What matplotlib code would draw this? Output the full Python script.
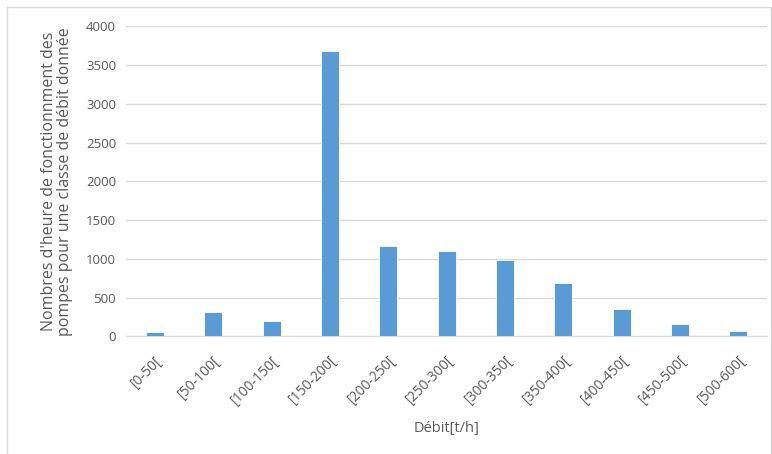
import matplotlib.pyplot as plt
from matplotlib.patches import Rectangle

classes = ['[0-50[', '[50-100[', '[100-150[', '[150-200[', '[200-250[', '[250-300[',
           '[300-350[', '[350-400[', '[400-450[', '[450-500[', '[500-600[']
heures = [55, 320, 205, 3685, 1172, 1107, 990, 690, 355, 157, 70]
yticks = [0, 500, 1000, 1500, 2000, 2500, 3000, 3500, 4000]

plt.rcParams['font.family'] = ['Open Sans', 'DejaVu Sans']
grey = '#595959'

fig = plt.figure(figsize=(7.72, 4.54), dpi=100)
fig.patches.append(Rectangle((7 / 772, -0.01), 764 / 772, 1 - 7 / 454 + 0.01,
                             transform=fig.transFigure, fill=False,
                             edgecolor='#d9d9d9', linewidth=1))

ax = fig.add_axes([0.163, 0.259, 0.831, 0.683])
x = range(len(classes))
ax.bar(x, heures, width=0.31, color='#5B9BD5', edgecolor='white', linewidth=0.6, zorder=3)

ax.set_xlim(-0.5, len(classes) - 0.5)
ax.set_ylim(0, 4000)
ax.set_yticks(yticks)
ax.set_yticklabels([str(v) for v in yticks], fontsize=9.5, color=grey)
ax.set_xticks(list(x))
ax.set_xticklabels(classes, rotation=45, ha='right', rotation_mode='anchor',
                   fontsize=10, color=grey)
ax.tick_params(length=0, pad=7)
ax.tick_params(axis='x', pad=12)
ax.grid(axis='y', color='#d9d9d9', linewidth=1, zorder=0)
for s in ['top', 'right', 'left']:
    ax.spines[s].set_visible(False)
ax.spines['bottom'].set_color('#d9d9d9')

ax.set_ylabel("Nombres d'heure de fonctionnment des\npompes pour une classe de débit donnée",
              fontsize=11.5, color=grey, labelpad=9, linespacing=1.05)
ax.set_xlabel('Débit[t/h]', fontsize=10.5, color=grey, labelpad=10)

fig.savefig('out.png', dpi=100)
